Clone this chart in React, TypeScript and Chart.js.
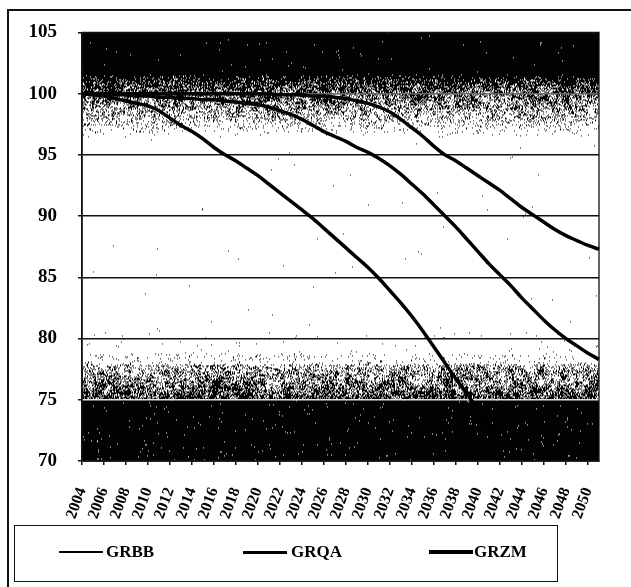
import { useEffect, useRef } from "react";
import { Chart, registerables, ChartConfiguration, Plugin } from "chart.js";

Chart.register(...registerables);

const Years: string[] = [
  "2004", "2005", "2006", "2007", "2008", "2009", "2010", "2011",
  "2012", "2013", "2014", "2015", "2016", "2017", "2018", "2019",
  "2020", "2021", "2022", "2023", "2024", "2025", "2026", "2027",
  "2028", "2029", "2030", "2031", "2032", "2033", "2034", "2035",
  "2036", "2037", "2038", "2039", "2040", "2041", "2042", "2043",
  "2044", "2045", "2046", "2047", "2048", "2049", "2050", "2051",
];

const GRBB: (number | null)[] = [
  100.0, 99.9, 99.8, 99.6, 99.4, 99.2, 99.0, 98.6,
  98.0, 97.4, 96.9, 96.3, 95.6, 95.0, 94.5, 93.9,
  93.3, 92.6, 91.9, 91.2, 90.5, 89.8, 89.0, 88.2,
  87.4, 86.6, 85.8, 84.9, 83.9, 82.9, 81.8, 80.6,
  79.3, 78.0, 76.7, 75.5, 74.2, 73.0, 71.8, null,
  null, null, null, null, null, null, null, null,
];

const GRQA: number[] = [
  100.0, 100.0, 99.9, 99.9, 99.9, 99.8, 99.8, 99.7,
  99.7, 99.6, 99.6, 99.5, 99.5, 99.4, 99.3, 99.2,
  99.1, 98.9, 98.6, 98.3, 97.9, 97.4, 96.9, 96.5,
  96.1, 95.6, 95.2, 94.7, 94.1, 93.4, 92.6, 91.8,
  90.9, 90.0, 89.1, 88.1, 87.1, 86.1, 85.2, 84.3,
  83.3, 82.4, 81.5, 80.7, 80.0, 79.4, 78.8, 78.3,
];

const GRZM: number[] = [
  100.0, 100.0, 100.0, 100.0, 100.0, 100.0, 100.0, 100.0,
  100.0, 100.0, 100.0, 100.0, 100.0, 100.0, 100.0, 100.0,
  100.0, 100.0, 99.9, 99.9, 99.9, 99.8, 99.8, 99.7,
  99.6, 99.4, 99.2, 98.9, 98.5, 97.9, 97.2, 96.5,
  95.7, 95.0, 94.5, 93.9, 93.3, 92.7, 92.1, 91.4,
  90.7, 90.1, 89.5, 88.9, 88.4, 88.0, 87.6, 87.3,
];

const SeriesNames: string[] = ["GRBB", "GRQA", "GRZM"];
const YMin = 70;
const YMax = 105;
const YStep = 5;

const serif = "'Liberation Serif', 'Times New Roman', serif";

// seeded generator, only used for the scanned-paper texture
function mulberry32(seed: number) {
  return () => {
    seed = (seed + 0x6d2b79f5) | 0;
    let t = Math.imul(seed ^ (seed >>> 15), 1 | seed);
    t = (t + Math.imul(t ^ (t >>> 7), 61 | t)) ^ t;
    return ((t ^ (t >>> 14)) >>> 0) / 4294967296;
  };
}

// how dark the background is at a given value of the y scale
function density(v: number): number {
  if (v >= 101.6) return 0.997;
  if (v > 96.4) return 0.997 * Math.pow((v - 96.4) / 5.2, 1.3);
  if (v <= 75) return 0.993;
  if (v < 77.9) return 0.25 + 0.5 * ((77.9 - v) / 2.9);
  if (v < 78.8) return 0.05;
  if (v < 80.5) return 0.006;
  return 0.0006;
}

const scanBands: Plugin<"line"> = {
  id: "scanBands",
  beforeDraw(chart) {
    const { ctx, chartArea, scales } = chart;
    const y = scales.y;
    const w = Math.round(chartArea.right - chartArea.left);
    const h = Math.round(chartArea.bottom - chartArea.top);
    const off = document.createElement("canvas");
    off.width = w;
    off.height = h;
    const octx = off.getContext("2d");
    if (!octx) return;
    const img = octx.createImageData(w, h);
    const rand = mulberry32(11);
    const cell = 5;
    const gw = Math.ceil(w / cell) + 2;
    const gh = Math.ceil(h / cell) + 2;
    const grid = new Float32Array(gw * gh);
    for (let i = 0; i < grid.length; i++) grid[i] = rand();
    for (let py = 0; py < h; py++) {
      const d = density(y.getValueForPixel(chartArea.top + py + 0.5) as number);
      if (d <= 0) continue;
      const gy = py / cell;
      const iy = Math.floor(gy);
      const fy = gy - iy;
      for (let px = 0; px < w; px++) {
        const gx = px / cell;
        const ix = Math.floor(gx);
        const fx = gx - ix;
        const a = grid[iy * gw + ix];
        const b = grid[iy * gw + ix + 1];
        const c = grid[(iy + 1) * gw + ix];
        const e = grid[(iy + 1) * gw + ix + 1];
        const n = (a * (1 - fx) + b * fx) * (1 - fy) + (c * (1 - fx) + e * fx) * fy;
        const p = d + (n - 0.5) * 1.7 * Math.min(d, 1 - d);
        if (rand() < p) {
          const k = (py * w + px) * 4;
          img.data[k] = 2;
          img.data[k + 1] = 2;
          img.data[k + 2] = 2;
          img.data[k + 3] = 255;
        }
      }
    }
    octx.putImageData(img, 0, 0);
    ctx.drawImage(off, chartArea.left, chartArea.top);
  },
  afterDatasetsDraw(chart) {
    const { ctx, chartArea } = chart;
    ctx.save();
    ctx.strokeStyle = "#111";
    ctx.lineWidth = 1.3;
    ctx.strokeRect(
      chartArea.left,
      chartArea.top,
      chartArea.right - chartArea.left,
      chartArea.bottom - chartArea.top
    );
    ctx.restore();
  },
};

function ScanChart() {
  const chartRef = useRef<null | HTMLCanvasElement>(null);
  useEffect(() => {
    if (!chartRef.current) return;
    const seriesData = [GRBB, GRQA, GRZM];
    const config: ChartConfiguration<"line"> = {
      type: "line",
      data: {
        labels: Years,
        datasets: SeriesNames.map((name, i) => ({
          label: name,
          data: seriesData[i],
          borderColor: "#000",
          borderWidth: 3.5,
          pointRadius: 0,
          cubicInterpolationMode: "monotone" as const,
          fill: false,
        })),
      },
      options: {
        animation: false,
        responsive: false,
        devicePixelRatio: 1,
        layout: { padding: { left: 0, top: 27, right: 32, bottom: 66 } },
        plugins: {
          legend: { display: false },
          tooltip: { enabled: false },
        },
        scales: {
          x: {
            type: "category",
            offset: false,
            afterFit: (scale) => {
              scale.height = 60;
            },
            grid: {
              drawOnChartArea: false,
              color: "#111",
              lineWidth: 1.5,
              tickLength: 4,
            },
            border: { color: "#111", width: 1.5 },
            ticks: {
              autoSkip: false,
              maxRotation: 70,
              minRotation: 70,
              padding: 20,
              color: "#000",
              font: { family: serif, size: 16, weight: "bold" },
              callback: (_value, index) =>
                index % 2 === 0 ? Years[index] : null,
            },
          },
          y: {
            min: YMin,
            max: YMax,
            afterFit: (scale) => {
              scale.width = 82;
            },
            grid: {
              color: (ctx) => {
                const v = ctx.tick ? ctx.tick.value : 0;
                if (v === 75) return "#e4e4e4";
                if (v === 100) return "#666";
                return "#111";
              },
              tickColor: "#111",
              lineWidth: 1.5,
              tickLength: 4,
            },
            border: { color: "#111", width: 1.5 },
            ticks: {
              stepSize: YStep,
              padding: 21,
              color: "#000",
              font: { family: serif, size: 19, weight: "bold" },
            },
          },
        },
      },
      plugins: [scanBands],
    };
    const chart = new Chart(chartRef.current, config);
    return () => {
      chart.destroy();
    };
  }, []);
  return (
    <canvas
      ref={chartRef}
      width={631}
      height={587}
      style={{ position: "absolute", left: 0, top: 0 }}
    />
  );
}

const legendSampleLeft = [59, 243, 429];
const legendTextLeft = [106, 291, 474];
const legendThickness = [2.5, 3, 4];

export default function App() {
  return (
    <div
      style={{
        position: "absolute",
        left: 0,
        top: 0,
        width: 631,
        height: 587,
        overflow: "hidden",
        background: "#fff",
      }}
    >
      <ScanChart />
      <div
        style={{
          position: "absolute",
          left: 7,
          top: 9,
          width: 700,
          height: 700,
          borderLeft: "2px solid #111",
          borderTop: "2px solid #111",
          pointerEvents: "none",
        }}
      />
      <div
        style={{
          position: "absolute",
          left: 14,
          top: 525,
          width: 542,
          height: 55,
          border: "1.5px solid #111",
        }}
      />
      {SeriesNames.map((name, i) => (
        <div key={name}>
          <div
            style={{
              position: "absolute",
              left: legendSampleLeft[i],
              top: 552 - legendThickness[i] / 2,
              width: 44,
              height: legendThickness[i],
              background: "#000",
            }}
          />
          <div
            style={{
              position: "absolute",
              left: legendTextLeft[i],
              top: 542,
              fontFamily: serif,
              fontWeight: "bold",
              fontSize: 17,
              lineHeight: "19px",
              color: "#000",
            }}
          >
            {name}
          </div>
        </div>
      ))}
    </div>
  );
}
